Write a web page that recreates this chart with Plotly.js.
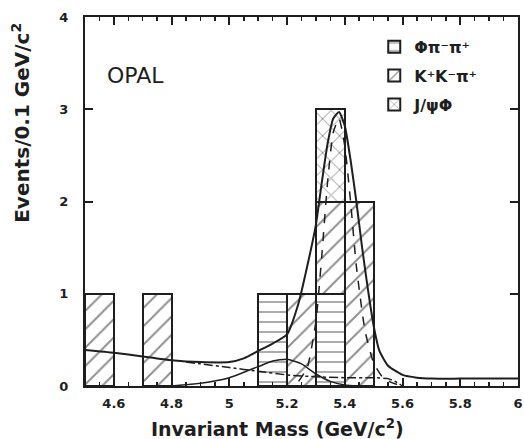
<!DOCTYPE html>
<html>
<head>
<meta charset="utf-8">
<script src="https://cdn.plot.ly/plotly-3.0.1.min.js"></script>
<style>html,body{margin:0;padding:0;background:#fff;}#chart{width:524px;height:439px;}</style>
</head>
<body>
<div id="chart"></div>
<script>
// Histogram bins (bin centres, width 0.1 GeV/c^2)
const phiX = [5.15, 5.35];
const phiY = [1, 1];
const kkX = [4.55, 4.75, 5.25, 5.35, 5.45];
const kkY = [1, 1, 1, 1, 2];
const jpsiX = [5.35];
const jpsiY = [1];
const names = ['\u03A6\u03C0\u207B\u03C0\u207A', 'K\u207AK\u207B\u03C0\u207A', 'J/\u03C8\u03A6'];

// Fit curves
const totX = [4.5,4.6,4.7,4.8,4.9,5.0,5.05,5.1,5.15,5.2,5.24,5.27,5.3,5.32,5.34,5.36,5.38,5.40,5.42,5.44,5.46,5.48,5.5,5.52,5.55,5.6,5.65,5.7,5.8,5.9,6.0];
const totY = [0.39,0.36,0.32,0.28,0.26,0.26,0.30,0.38,0.46,0.56,0.9,1.3,1.75,2.2,2.62,2.9,2.97,2.82,2.45,2.0,1.5,1.05,0.65,0.38,0.22,0.12,0.09,0.08,0.08,0.08,0.08];
const sigX = [5.24,5.27,5.30,5.32,5.34,5.36,5.38,5.40,5.42,5.44,5.47,5.50,5.53,5.56,5.60];
const sigY = [0.05,0.2,0.7,1.4,2.2,2.75,2.9,2.6,2.0,1.3,0.6,0.25,0.1,0.04,0.0];
const reflX = [4.8,4.9,5.0,5.1,5.15,5.2,5.25,5.3,5.35,5.4,5.45];
const reflY = [0.0,0.03,0.09,0.21,0.27,0.29,0.24,0.13,0.05,0.01,0.0];
const bkgX = [4.85,4.9,5.0,5.1,5.2,5.3,5.4,5.5,5.55,5.58,5.6];
const bkgY = [0.26,0.24,0.2,0.16,0.12,0.1,0.09,0.09,0.08,0.04,0.0];

const ink = '#1e1e1e';
const fnt = 'DejaVu Sans, Liberation Sans, sans-serif';

function barTrace(x, y, name, shape, size, grp) {
  return {
    type: 'bar', x: x, y: y, name: name, width: 0.1, legendgroup: grp,
    marker: {
      color: 'white',
      line: {color: ink, width: 2},
      pattern: {shape: shape, size: size, solidity: 0.15, fgcolor: ink, bgcolor: 'white', fillmode: 'overlay'}
    },
    hoverinfo: 'skip'
  };
}
function lineTrace(x, y, dash, w) {
  return {type: 'scatter', mode: 'lines', x: x, y: y, showlegend: false,
    line: {color: ink, width: w, dash: dash, shape: 'spline', smoothing: 0.5}, hoverinfo: 'skip'};
}

const data = [
  barTrace(phiX, phiY, names[0], '-', 10, 'a'),
  barTrace(kkX, kkY, names[1], '/', 13, 'b'),
  barTrace(jpsiX, jpsiY, names[2], 'x', 12, 'c'),
  lineTrace(bkgX, bkgY, 'dashdot', 1.5),
  lineTrace(reflX, reflY, 'solid', 1.5),
  lineTrace(sigX, sigY, 'dash', 1.5),
  lineTrace(totX, totY, 'solid', 2)
];

const axisCommon = {
  showgrid: false, zeroline: false, showline: true, linecolor: ink, linewidth: 2,
  mirror: 'ticks', ticks: 'inside', ticklen: 8, tickwidth: 2, tickcolor: ink,
  tickfont: {family: fnt, size: 13, color: ink, weight: 'bold'}
};

const layout = {
  width: 524, height: 439,
  margin: {l: 85, r: 6, t: 17, b: 53},
  paper_bgcolor: 'white', plot_bgcolor: 'white',
  barmode: 'stack', bargap: 0,
  showlegend: true,
  legend: {x: 0.668, y: 0.965, xanchor: 'left', yanchor: 'top', traceorder: 'grouped', tracegroupgap: 5,
    bgcolor: 'rgba(0,0,0,0)', font: {family: fnt, size: 16, color: ink, weight: 'bold'}, itemwidth: 30},
  xaxis: Object.assign({}, axisCommon, {
    range: [4.5, 6.0], tickvals: [4.6,4.8,5,5.2,5.4,5.6,5.8,6], ticktext: ['4.6','4.8','5','5.2','5.4','5.6','5.8','6'],
    minor: {dtick: 0.05, tick0: 4.5, ticks: 'inside', ticklen: 4, tickwidth: 1.5, tickcolor: ink},
    ticklabelstandoff: 4
  }),
  yaxis: Object.assign({}, axisCommon, {
    range: [0, 4], tickvals: [0,1,2,3,4], ticklabelstandoff: 12
  }),
  annotations: [
    {xref: 'x', yref: 'y', x: 4.57, y: 3.37, xanchor: 'left', yanchor: 'middle', showarrow: false,
     text: 'OPAL', font: {family: fnt, size: 22, color: ink}},
    {xref: 'paper', yref: 'paper', x: 0.445, y: -0.113, xanchor: 'center', yanchor: 'middle', showarrow: false,
     text: 'Invariant Mass (GeV/c<sup>2</sup>)', font: {family: fnt, size: 19, color: ink, weight: 'bold'}},
    {xref: 'paper', yref: 'paper', x: -0.148, y: 0.713, xanchor: 'center', yanchor: 'middle', showarrow: false,
     textangle: -90, text: 'Events/0.1 GeV/c<sup>2</sup>', font: {family: fnt, size: 20, color: ink, weight: 'bold'}}
  ]
};

Plotly.newPlot('chart', data, layout, {displayModeBar: false, staticPlot: true});
</script>
</body>
</html>
